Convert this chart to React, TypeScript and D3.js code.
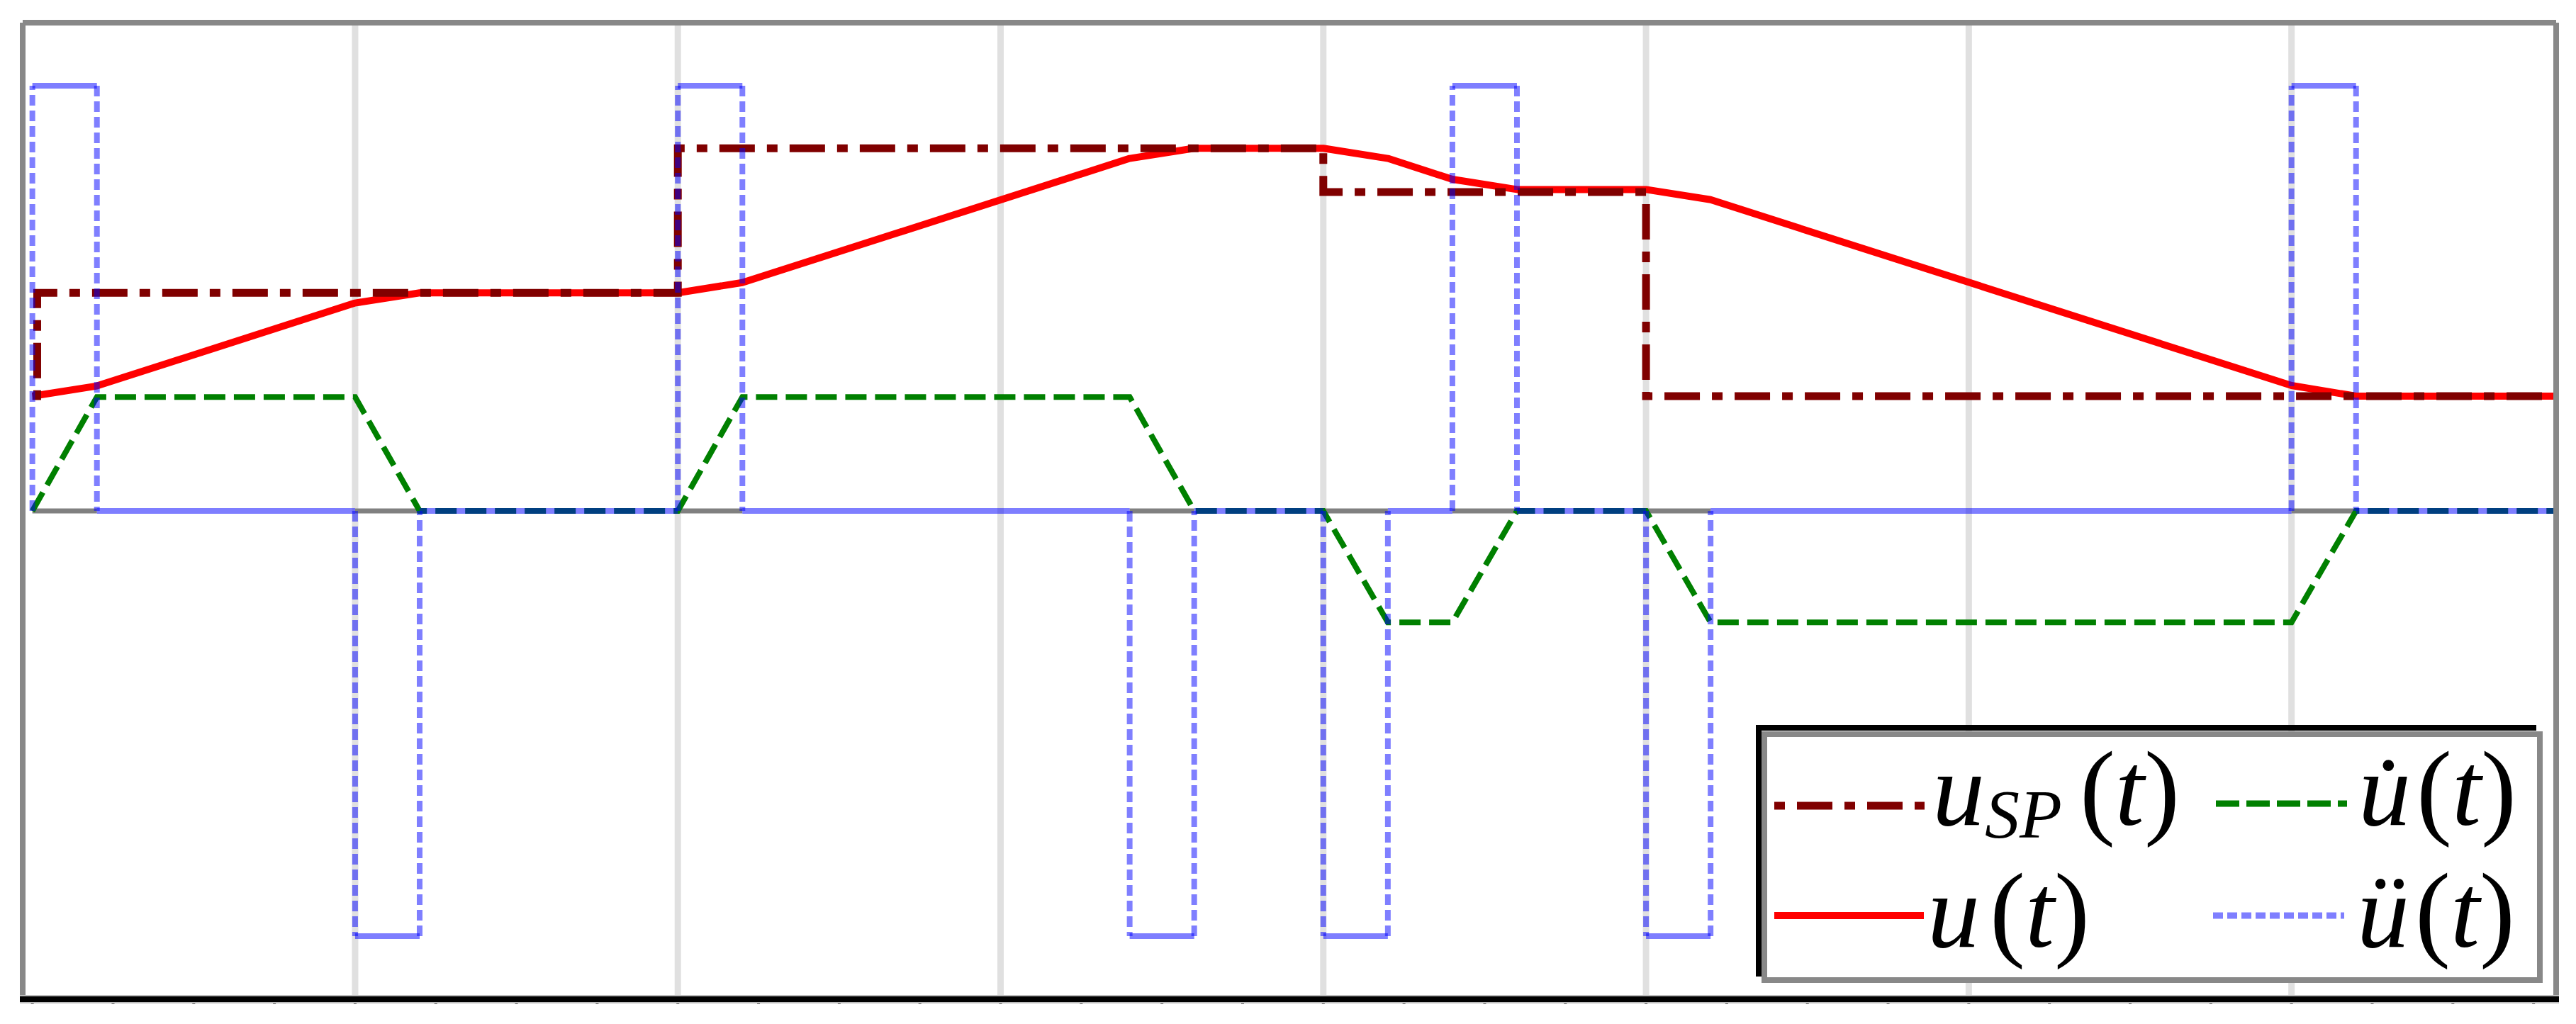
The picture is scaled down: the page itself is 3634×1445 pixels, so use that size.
import React, { useEffect } from 'react';
import * as d3 from 'd3';

const W = 3634;
const H = 1445;

// vertical grid lines (time units)
const gridTimes = [1, 2, 3, 4, 5, 6, 7];
const minorTicks = d3.range(0, 7.8, 0.25);

// set point u_SP(t), drawn as steps
const spTime = [0, 0.015, 2, 4, 5, 7.82];
const spValue = [0.27, 0.513, 0.853, 0.75, 0.27, 0.27];

// output u(t)
const uTime = [0, 0.2, 1.0, 1.2, 2.0, 2.2, 3.4, 3.6, 4.0, 4.2, 4.4, 4.6, 5.0, 5.2, 7.0, 7.2, 7.82];
const uValue = [0.27, 0.294, 0.489, 0.513, 0.513, 0.537, 0.829, 0.853, 0.853, 0.829, 0.78, 0.756, 0.756, 0.732, 0.295, 0.27, 0.27];

// first derivative u'(t)
const vTime = [0, 0.2, 1.0, 1.2, 2.0, 2.2, 3.4, 3.6, 4.0, 4.2, 4.4, 4.6, 5.0, 5.2, 7.0, 7.2, 7.82];
const vValue = [0, 0.268, 0.268, 0, 0, 0.268, 0.268, 0, 0, -0.262, -0.262, 0, 0, -0.262, -0.262, 0, 0];

// second derivative u''(t), steps
const aTime = [0, 0.2, 1.0, 1.2, 2.0, 2.2, 3.4, 3.6, 4.0, 4.2, 4.4, 4.6, 5.0, 5.2, 7.0, 7.2, 7.82];
const aValue = [1, 0, -1, 0, 1, 0, -1, 0, -1, 0, 1, 0, -1, 0, 1, 0, 0];

const zip = (ts: number[], vs: number[]) => ts.map((t, i) => ({ t, v: vs[i] }));

const App = () => {
  useEffect(() => {
    document.body.style.margin = '0';
  }, []);

  const x = d3.scaleLinear().domain([-0.03, 7.82]).range([32, 3606]);
  const y = d3.scaleLinear().domain([-1.15, 1.15]).range([1411, 31]);

  const line = d3.line<{ t: number; v: number }>().x(d => x(d.t)).y(d => y(d.v));
  const stepLine = d3.line<{ t: number; v: number }>().x(d => x(d.t)).y(d => y(d.v)).curve(d3.curveStepAfter);

  const sp = zip(spTime, spValue);
  const u = zip(uTime, uValue);
  const v = zip(vTime, vValue);
  const a = zip(aTime, aValue);

  // acceleration: flat parts solid, jumps dashed
  const aFlat = a.slice(0, -1).map((d, i) => ({ t0: d.t, t1: a[i + 1].t, v: d.v }));
  const aJumps = a
    .map((d, i) => ({ t: d.t, v0: i === 0 ? 0 : a[i - 1].v, v1: d.v }))
    .filter(d => d.v0 !== d.v1);

  const serif = '"Liberation Serif", serif';
  const it = { fontFamily: serif, fontStyle: 'italic', fill: '#000', fontSize: 148 } as const;
  const par = { fontStyle: 'normal', fontSize: 150 } as const;

  return (
    <svg width={W} height={H} style={{ display: 'block', background: '#fff' }}>
      <rect x={0} y={0} width={W} height={H} fill="#fff" />

      {/* grid */}
      {gridTimes.map(t => (
        <line key={t} x1={x(t)} x2={x(t)} y1={y(1.15)} y2={y(-1.15)} stroke="#e0e0e0" strokeWidth={9} />
      ))}

      {/* zero axis, visible where u'' leaves zero */}
      {aFlat.filter(d => d.v !== 0).map((d, i) => (
        <line key={i} x1={x(d.t0)} x2={x(d.t1)} y1={y(0)} y2={y(0)} stroke="#808080" strokeWidth={7} />
      ))}

      <path d={line(u) ?? ''} fill="none" stroke="#ff0000" strokeWidth={10} strokeLinejoin="round" />
      <path d={stepLine(sp) ?? ''} fill="none" stroke="#800000" strokeWidth={11} strokeDasharray="15 17 50 17" />
      <path d={line(v) ?? ''} fill="none" stroke="#008000" strokeWidth={8} strokeDasharray="30 12" />

      <g opacity={0.5}>
        {aFlat.map((d, i) => (
          <line key={'h' + i} x1={x(d.t0)} x2={x(d.t1)} y1={y(d.v)} y2={y(d.v)} stroke="#0000ff" strokeWidth={8} />
        ))}
      </g>
      {aJumps.map((d, i) => (
        <line key={'v' + i} x1={x(d.t)} x2={x(d.t)} y1={y(d.v0)} y2={y(d.v1)} stroke="#0000ff" strokeOpacity={0.5} strokeWidth={8} strokeDasharray="15 7" />
      ))}

      {/* frame */}
      {minorTicks.map(t => (
        <line key={t} x1={x(t)} x2={x(t)} y1={1408} y2={1417} stroke="#666" strokeWidth={4} />
      ))}
      <line x1={32} x2={3606} y1={32} y2={32} stroke="#888" strokeWidth={8} />
      <line x1={32} x2={32} y1={32} y2={1411} stroke="#888" strokeWidth={8} />
      <line x1={3606} x2={3606} y1={32} y2={1411} stroke="#888" strokeWidth={8} />
      <line x1={28} x2={3610} y1={1410} y2={1410} stroke="#bbb" strokeWidth={12} />
      <line x1={28} x2={3610} y1={1410} y2={1410} stroke="#000" strokeWidth={8} />

      {/* legend */}
      <rect x={2489} y={1036} width={1094} height={347} fill="#fff" stroke="#888" strokeWidth={8} />
      <line x1={2481} x2={3578} y1={1027} y2={1027} stroke="#000" strokeWidth={8} />
      <line x1={2481} x2={2481} y1={1023} y2={1378} stroke="#000" strokeWidth={8} />

      <line x1={2503} x2={2715} y1={1137} y2={1137} stroke="#800000" strokeWidth={11} strokeDasharray="15 17 50 17" />
      <line x1={2503} x2={2714} y1={1292} y2={1292} stroke="#ff0000" strokeWidth={10} />
      <line x1={3126} x2={3311} y1={1134} y2={1134} stroke="#008000" strokeWidth={9} strokeDasharray="33 10" />
      <line x1={3122} x2={3307} y1={1292} y2={1292} stroke="#0000ff" strokeOpacity={0.5} strokeWidth={9} strokeDasharray="14 6" />

      <text {...it} x={2726} y={1164}>
        u
        <tspan dy={18} fontSize={98}>SP</tspan>
        <tspan dx={25} dy={-18} {...par}>(</tspan>
        <tspan>t</tspan>
        <tspan {...par}>)</tspan>
      </text>

      <text {...it} x={2719} y={1336}>
        u
        <tspan dx={14} {...par}>(</tspan>
        <tspan>t</tspan>
        <tspan {...par}>)</tspan>
      </text>

      <text {...it} x={3327} y={1164}>
        {'u\u0307'}
        <tspan dx={8} {...par}>(</tspan>
        <tspan>t</tspan>
        <tspan {...par}>)</tspan>
      </text>

      <text {...it} x={3325} y={1336}>
        ü
        <tspan dx={8} {...par}>(</tspan>
        <tspan>t</tspan>
        <tspan {...par}>)</tspan>
      </text>
    </svg>
  );
};

export default App;
